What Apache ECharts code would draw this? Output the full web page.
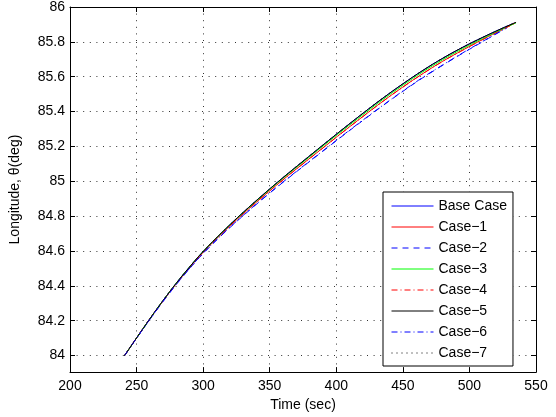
<!DOCTYPE html>
<html>
<head>
<meta charset="utf-8">
<script src="https://cdn.jsdelivr.net/npm/echarts@6/dist/echarts.min.js"></script>
<style>html,body{margin:0;padding:0;background:#fff}#c{width:556px;height:417px}</style>
</head>
<body>
<div id="c"></div>
<script>
// ---- data ----
const xTicks = [200, 250, 300, 350, 400, 450, 500, 550];
const yTicks = [84, 84.2, 84.4, 84.6, 84.8, 85, 85.2, 85.4, 85.6, 85.8, 86];
const seriesNames = ['Base Case', 'Case\u22121', 'Case\u22122', 'Case\u22123', 'Case\u22124', 'Case\u22125', 'Case\u22126', 'Case\u22127'];

const timeMain = [241, 250, 260, 270, 280, 290, 300, 315, 330, 345, 360, 375, 390, 405, 420, 435, 450, 465, 480, 495, 510, 525, 535];
const timeBlue = [241, 250, 260, 270, 280, 290, 300, 315, 330, 345, 360, 375, 390, 405, 420, 435, 450, 465, 480, 495, 510, 525, 528];

const thetaBase  = [84.000, 84.101, 84.211, 84.317, 84.417, 84.510, 84.597, 84.713, 84.821, 84.923, 85.021, 85.115, 85.208, 85.300, 85.390, 85.477, 85.559, 85.636, 85.706, 85.769, 85.826, 85.879, 85.912];
const thetaCase1 = [84.000, 84.101, 84.211, 84.315, 84.414, 84.506, 84.592, 84.707, 84.813, 84.913, 85.009, 85.101, 85.192, 85.283, 85.372, 85.459, 85.541, 85.618, 85.689, 85.753, 85.814, 85.873, 85.912];
const thetaCase2 = [84.000, 84.099, 84.207, 84.311, 84.409, 84.500, 84.585, 84.698, 84.802, 84.900, 84.994, 85.084, 85.173, 85.262, 85.349, 85.434, 85.516, 85.594, 85.666, 85.735, 85.801, 85.867, 85.879];
const thetaCase3 = [84.000, 84.101, 84.211, 84.317, 84.417, 84.510, 84.597, 84.712, 84.819, 84.920, 85.017, 85.110, 85.202, 85.293, 85.382, 85.469, 85.551, 85.628, 85.698, 85.761, 85.819, 85.874, 85.909];
const thetaCase4 = [84.000, 84.101, 84.210, 84.314, 84.413, 84.505, 84.591, 84.706, 84.812, 84.912, 85.008, 85.100, 85.191, 85.282, 85.371, 85.458, 85.540, 85.617, 85.688, 85.752, 85.813, 85.871, 85.910];
const thetaCase5 = [84.000, 84.101, 84.211, 84.317, 84.417, 84.510, 84.597, 84.713, 84.821, 84.923, 85.021, 85.115, 85.208, 85.300, 85.390, 85.477, 85.559, 85.636, 85.706, 85.769, 85.826, 85.879, 85.912];
const thetaCase6 = [84.000, 84.100, 84.208, 84.313, 84.411, 84.502, 84.587, 84.700, 84.804, 84.902, 84.996, 85.086, 85.175, 85.264, 85.351, 85.436, 85.518, 85.596, 85.668, 85.737, 85.803, 85.868, 85.880];
const thetaCase7 = [84.000, 84.101, 84.211, 84.317, 84.417, 84.510, 84.597, 84.713, 84.821, 84.923, 85.021, 85.115, 85.208, 85.300, 85.390, 85.477, 85.559, 85.636, 85.706, 85.769, 85.826, 85.879, 85.912];

// ---- styling ----
const FONT = 'Liberation Sans, Arial, Helvetica, sans-serif';
const styles = [
  { color: '#0000ff', type: 'solid' },
  { color: '#ff0000', type: 'solid' },
  { color: '#0000ff', type: [6, 5] },
  { color: '#00ff00', type: 'solid' },
  { color: '#ff0000', type: [6, 3, 1, 3] },
  { color: '#000000', type: 'solid' },
  { color: '#0000ff', type: [6, 3, 1, 3] },
  { color: '#000000', type: [1, 4] }
];
const thetas = [thetaBase, thetaCase1, thetaCase2, thetaCase3, thetaCase4, thetaCase5, thetaCase6, thetaCase7];
const times = [timeMain, timeMain, timeBlue, timeMain, timeMain, timeMain, timeBlue, timeMain];

function pairs(t, v) { return t.map((x, i) => [x, v[i]]); }

const series = seriesNames.map((name, i) => ({
  name: name,
  type: 'line',
  data: pairs(times[i], thetas[i]),
  symbol: 'none',
  showSymbol: false,
  smooth: 0.4,
  animation: false,
  lineStyle: { color: styles[i].color, width: 1, type: styles[i].type },
  itemStyle: { color: styles[i].color }
}));

const gridLine = { show: true, lineStyle: { color: '#333', width: 1, type: [1, 5.6] } };
const tickLab = { fontFamily: FONT, fontSize: 14, color: '#000' };

const chart = echarts.init(document.getElementById('c'), null, { renderer: 'canvas' });
chart.setOption({
  backgroundColor: '#fff',
  animation: false,
  grid: { left: 67, right: 20, top: 6, bottom: 42, containLabel: false },
  xAxis: [
    {
      type: 'value', min: 200, max: 550, interval: 50, position: 'bottom',
      name: 'Time (sec)', nameLocation: 'middle', nameGap: 23,
      nameTextStyle: { fontFamily: FONT, fontSize: 14, color: '#000' },
      axisLine: { show: true, onZero: false, lineStyle: { color: '#000', width: 1 } },
      axisTick: { show: true, inside: true, length: 5, lineStyle: { color: '#000' } },
      axisLabel: Object.assign({ margin: 7, formatter: v => String(v) }, tickLab),
      splitLine: gridLine
    },
    {
      type: 'value', min: 200, max: 550, interval: 50, position: 'top',
      axisLine: { show: true, onZero: false, lineStyle: { color: '#000', width: 1 } },
      axisTick: { show: true, inside: true, length: 5, lineStyle: { color: '#000' } },
      axisLabel: { show: false }, splitLine: { show: false }
    }
  ],
  yAxis: [
    {
      type: 'value', min: 83.905, max: 86, position: 'left',
      name: 'Longitude, \u03b8(deg)', nameLocation: 'middle', nameGap: 48,
      nameTextStyle: { fontFamily: FONT, fontSize: 14, color: '#000' },
      axisLine: { show: true, onZero: false, lineStyle: { color: '#000', width: 1 } },
      axisTick: { show: true, inside: true, length: 5, lineStyle: { color: '#000' }, customValues: yTicks },
      axisLabel: Object.assign({ margin: 5, customValues: yTicks, formatter: v => String(+(+v).toFixed(1)) }, tickLab),
      splitLine: gridLine
    },
    {
      type: 'value', min: 83.905, max: 86, position: 'right',
      axisLine: { show: true, onZero: false, lineStyle: { color: '#000', width: 1 } },
      axisTick: { show: true, inside: true, length: 5, lineStyle: { color: '#000' }, customValues: yTicks },
      axisLabel: { show: false, customValues: yTicks }, splitLine: { show: false }
    }
  ],
  legend: {
    orient: 'vertical', left: 383, top: 192,
    padding: [7, 6, 6, 8],
    itemWidth: 42, itemHeight: 13, itemGap: 7,
    backgroundColor: '#fff', borderColor: '#000', borderWidth: 1,
    textStyle: { fontFamily: FONT, fontSize: 14, color: '#000' },
    itemStyle: { opacity: 0, borderWidth: 0 },
    lineStyle: { width: 1 },
    data: seriesNames,
    selectedMode: false
  },
  series: series
});
</script>
</body>
</html>
